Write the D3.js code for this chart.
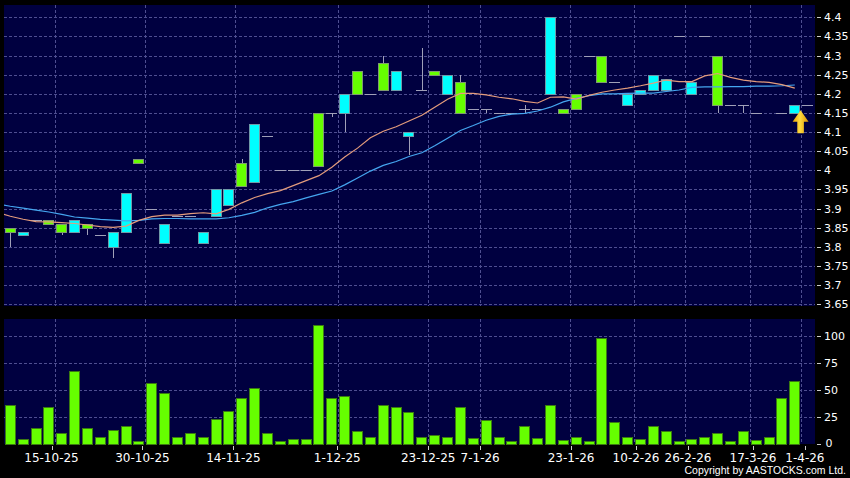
<!DOCTYPE html>
<html><head><meta charset="utf-8">
<script src="https://cdn.jsdelivr.net/npm/d3@7"></script>
<style>html,body{margin:0;padding:0;background:#000;}svg{display:block}</style>
</head><body><svg id="c" width="850" height="478"></svg>
<script>
// ---------- DATA ----------
const opens  = [3.85,3.83,3.87,3.87,3.86,3.84,3.86,3.83,3.80,3.84, 4.03,3.90,3.81,3.88,3.88,3.81,3.88,3.91,4.02,3.97,
                4.09,4.00,4.00,4.00,4.15,4.15,4.15,4.26,4.20,4.28, 4.21,4.09,4.21,4.26,4.20,4.23,4.16,4.16,4.15,4.15,
                4.16,4.16,4.20,4.16,4.20,4.30,4.30,4.23,4.17,4.20, 4.21,4.21,4.35,4.20,4.35,4.30,4.17,4.17,4.15,null,
                4.15,4.15];
const highs  = [3.85,3.84,3.87,3.87,3.86,3.87,3.86,3.83,3.84,3.94, 4.03,3.90,3.86,3.88,3.88,3.84,3.95,3.95,4.03,4.12,
                4.09,4.00,4.00,4.00,4.15,4.15,4.20,4.26,4.20,4.30, 4.26,4.10,4.32,4.26,4.25,4.25,4.16,4.16,4.15,4.15,
                4.17,4.16,4.40,4.16,4.20,4.30,4.30,4.23,4.20,4.21, 4.25,4.24,4.35,4.23,4.35,4.30,4.17,4.17,4.15,null,
                4.15,4.17];
const lows   = [3.80,3.83,3.87,3.86,3.83,3.84,3.83,3.83,3.77,3.84, 4.02,3.90,3.81,3.88,3.88,3.81,3.88,3.91,3.96,3.97,
                4.09,4.00,4.00,4.00,4.01,4.14,4.10,4.20,4.20,4.21, 4.21,4.04,4.21,4.25,4.20,4.15,4.16,4.15,4.15,4.15,
                4.15,4.16,4.20,4.15,4.16,4.30,4.23,4.23,4.17,4.20, 4.21,4.21,4.35,4.20,4.35,4.15,4.17,4.15,4.15,null,
                4.15,4.15];
const closes = [3.84,3.84,3.87,3.86,3.84,3.87,3.85,3.83,3.84,3.94, 4.02,3.90,3.86,3.88,3.88,3.84,3.95,3.95,3.96,4.12,
                4.09,4.00,4.00,4.00,4.01,4.15,4.20,4.20,4.20,4.21, 4.26,4.10,4.21,4.25,4.25,4.15,4.16,4.16,4.15,4.15,
                4.16,4.16,4.40,4.15,4.16,4.30,4.23,4.23,4.20,4.21, 4.25,4.24,4.35,4.23,4.35,4.17,4.17,4.17,4.15,null,
                4.15,4.17];
const volumes = [36,4,14,34,10,68,14,6,13,16, 2,56.5,46.6,6,10,6,23,30,42,52,
                 10,2.5,4,4,110,42.5,43.8,12,6,36, 34,29.5,6,7.8,6.5,34,5,21.7,6,2,
                 16,5,35.7,3.7,6.5,2,98,20,5.6,4, 16,12,2,4,6,9.6,2,12,3.4,6, 42,58];
// moving averages, first value is the day before the first candle
const ma10 = [3.890,3.880,3.872,3.866,3.865,3.863,3.861,3.857,3.853,3.851,3.854,3.869,3.879,3.883,3.883,3.887,3.889,3.886,
              3.898,3.915,3.929,3.939,3.947,3.960,3.973,3.986,4.008,4.035,4.058,4.085,4.102,4.114,4.129,4.144,4.165,4.186,
              4.201,4.201,4.197,4.191,4.187,4.180,4.176,4.191,4.192,4.186,4.196,4.204,4.210,4.215,4.221,4.228,4.236,4.232,
              4.232,4.247,4.253,4.243,4.236,4.232,4.230,4.224,4.215];
const ma20 = [3.912,3.906,3.901,3.896,3.891,3.885,3.878,3.875,3.872,3.870,3.868,3.869,3.873,3.874,3.874,3.873,3.873,3.873,
              3.876,3.882,3.890,3.902,3.911,3.918,3.928,3.937,3.946,3.962,3.980,3.998,4.013,4.023,4.036,4.046,4.064,4.084,
              4.104,4.117,4.131,4.141,4.147,4.149,4.155,4.165,4.179,4.188,4.195,4.200,4.200,4.201,4.202,4.202,4.206,4.210,
              4.217,4.218,4.218,4.219,4.219,4.220,4.220,4.221,4.223];
const tickIndex  = [3,10,17,25,32,36,43,48,52,57,61];
const tickLabels = ["15-10-25","30-10-25","14-11-25","1-12-25","23-12-25","7-1-26","23-1-26","10-2-26","26-2-26","17-3-26","1-4-26"];
const priceTicks = [3.65,3.7,3.75,3.8,3.85,3.9,3.95,4,4.05,4.1,4.15,4.2,4.25,4.3,4.35,4.4];
const volTicks   = [0,25,50,75,100];
const lastPrice  = 4.17;

// ---------- LAYOUT ----------
const W=850,H=478;
const plot={l:4,r:815,t:5,b:306};
const vp={t:319,b:444};
const svg=d3.select('#c');
const FONT='DejaVu Sans, Verdana, sans-serif';
const GRID='#4e4e90';

svg.append('rect').attr('width',W).attr('height',H).attr('fill','#000');
svg.append('rect').attr('x',plot.l).attr('y',plot.t).attr('width',plot.r-plot.l).attr('height',plot.b-plot.t).attr('fill','#000040');
svg.append('rect').attr('x',plot.l).attr('y',vp.t).attr('width',plot.r-plot.l).attr('height',vp.b-vp.t).attr('fill','#000040');

const x=d3.scaleLinear().domain([0,61]).range([10.3,794.8]);
const xTick=d3.scaleLinear().domain([0,61]).range([10.3*1.01-4.35,794.8*1.01-4.35]);
const y=d3.scaleLinear().domain([3.65,4.4]).range([304.2,17.3]);
const yv=d3.scaleLinear().domain([0,116]).range([443.5,319]);
const px=v=>Math.round(v)+0.5;

svg.append('clipPath').attr('id','cp').append('rect').attr('x',plot.l).attr('y',plot.t).attr('width',plot.r-plot.l).attr('height',plot.b-plot.t);

// grid
const g=svg.append('g').attr('stroke',GRID).attr('stroke-width',1).attr('stroke-dasharray','3,2').attr('shape-rendering','crispEdges');
g.selectAll('.hp').data(priceTicks).join('line').attr('x1',plot.l).attr('x2',plot.r).attr('y1',d=>px(y(d))).attr('y2',d=>px(y(d)));
g.selectAll('.hv').data(volTicks.filter(d=>d>0)).join('line').attr('x1',plot.l).attr('x2',plot.r).attr('y1',d=>px(yv(d))).attr('y2',d=>px(yv(d)));
g.selectAll('.vm').data(tickIndex).join('line').attr('x1',d=>px(x(d+0.5))).attr('x2',d=>px(x(d+0.5))).attr('y1',plot.t).attr('y2',plot.b);
g.selectAll('.vv').data(tickIndex).join('line').attr('x1',d=>px(x(d+0.5))).attr('x2',d=>px(x(d+0.5))).attr('y1',vp.t).attr('y2',vp.b);

// volume bars
svg.append('g').attr('shape-rendering','crispEdges').selectAll('rect').data(volumes).join('rect')
  .attr('x',(d,i)=>Math.round(x(i)-5.5)+0.5).attr('width',10)
  .attr('y',d=>Math.round(yv(d))+0.5).attr('height',d=>Math.max(0,Math.round(yv(0))-Math.round(yv(d))))
  .attr('fill','#66ff00').attr('stroke','#3b7a12').attr('stroke-width',1);

// candles
const idx=d3.range(opens.length).filter(i=>opens[i]!=null);
const cg=svg.append('g').attr('shape-rendering','crispEdges');
cg.selectAll('.wick').data(idx.filter(i=>highs[i]>lows[i])).join('line')
  .attr('x1',i=>px(x(i))).attr('x2',i=>px(x(i))).attr('y1',i=>Math.round(y(highs[i]))).attr('y2',i=>Math.round(y(lows[i])))
  .attr('stroke','#a0a0b8').attr('stroke-width',1);
cg.selectAll('.dash').data(idx.filter(i=>opens[i]===closes[i])).join('line')
  .attr('x1',i=>Math.round(x(i)-5.5)).attr('x2',i=>Math.round(x(i)+5.5))
  .attr('y1',i=>px(y(opens[i]))).attr('y2',i=>px(y(opens[i])))
  .attr('stroke','#a0a0b8').attr('stroke-width',1);
cg.selectAll('.body').data(idx.filter(i=>opens[i]!==closes[i])).join('rect')
  .attr('x',i=>Math.round(x(i)-5.5)+0.5).attr('width',10)
  .attr('y',i=>Math.round(y(Math.max(opens[i],closes[i])))+0.5)
  .attr('height',i=>Math.round(y(Math.min(opens[i],closes[i])))-Math.round(y(Math.max(opens[i],closes[i]))))
  .attr('fill',i=>closes[i]>opens[i]?'#00ffff':'#66ff00')
  .attr('stroke',i=>closes[i]>opens[i]?'#6f9aa8':'#7f9a70').attr('stroke-width',1);
// last price marker
const li=opens.length;
cg.append('line').attr('x1',Math.round(x(li)-5.5)).attr('x2',Math.round(x(li)+5.5))
  .attr('y1',px(y(lastPrice))).attr('y2',px(y(lastPrice))).attr('stroke','#a0a0b8');

// moving averages
const maLine=d3.line().x((d,i)=>x(i-1)).y(d=>y(d));
const mg=svg.append('g').attr('clip-path','url(#cp)').attr('fill','none');
mg.append('path').datum(ma20).attr('d',maLine).attr('stroke','#45a6f0').attr('stroke-width',1.2);
mg.append('path').datum(ma10).attr('d',maLine).attr('stroke','#e49c7c').attr('stroke-width',1.2);

// arrow
const defs=svg.append('defs');
const gr=defs.append('linearGradient').attr('id','ag').attr('x1','0').attr('x2','1').attr('y1','0').attr('y2','0');
gr.append('stop').attr('offset','0').attr('stop-color','#e8a000');
gr.append('stop').attr('offset','0.45').attr('stop-color','#ffdc40');
gr.append('stop').attr('offset','1').attr('stop-color','#d89000');
const ax=x(61.45), ay=y(lastPrice)+5;
svg.append('path').attr('d',`M${ax},${ay} L${ax+8},${ay+11.5} L${ax+3.3},${ay+11.5} L${ax+3.3},${ay+23} L${ax-3.3},${ay+23} L${ax-3.3},${ay+11.5} L${ax-8},${ay+11.5} Z`)
  .attr('fill','url(#ag)');

// y axes
const ya=svg.append('g').attr('font-family',FONT).attr('font-size',11).attr('fill','#fff');
ya.selectAll('line.p').data(priceTicks).join('line').attr('x1',817).attr('x2',821).attr('y1',d=>px(y(d))).attr('y2',d=>px(y(d))).attr('stroke','#ccc').attr('shape-rendering','crispEdges');
ya.selectAll('text.p').data(priceTicks).join('text').attr('x',824).attr('y',d=>y(d)).attr('dy','0.36em').text(d=>String(d));
const va=svg.append('g').attr('font-family',FONT).attr('font-size',11).attr('fill','#fff');
va.selectAll('line').data(volTicks).join('line').attr('x1',817).attr('x2',821).attr('y1',d=>px(yv(d))).attr('y2',d=>px(yv(d))).attr('stroke','#ccc').attr('shape-rendering','crispEdges');
va.selectAll('text').data(volTicks).join('text').attr('x',d=>d===0?825.5:824).attr('y',d=>yv(d)).attr('dy','0.36em').text(d=>String(d));

// x axis
const xa=svg.append('g').attr('font-family',FONT).attr('font-size',12).attr('fill','#fff');
xa.selectAll('line').data(tickIndex).join('line').attr('x1',d=>px(xTick(d+0.5))).attr('x2',d=>px(xTick(d+0.5))).attr('y1',446).attr('y2',450).attr('stroke','#ccc').attr('shape-rendering','crispEdges');
xa.selectAll('text').data(tickIndex).join('text').attr('x',d=>xTick(d+0.5)).attr('y',462).attr('text-anchor','middle').text((d,i)=>tickLabels[i]);

svg.append('text').attr('x',846).attr('y',474).attr('text-anchor','end').attr('font-family','Liberation Sans, Arial, sans-serif').attr('font-size',10.5)
  .attr('fill','#fff').text('Copyright by AASTOCKS.com Ltd.');
</script></body></html>
